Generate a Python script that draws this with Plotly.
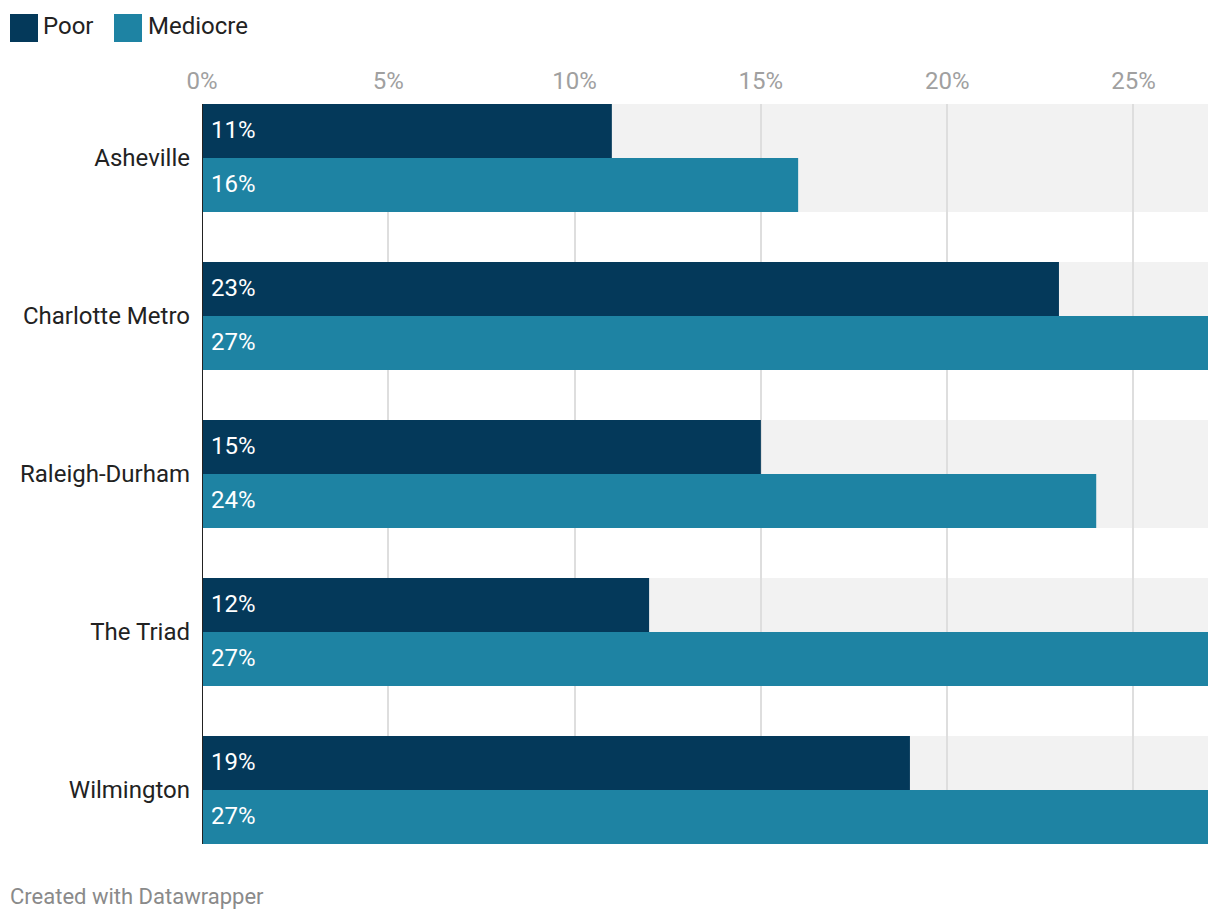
import plotly.graph_objects as go

categories = ["Asheville", "Charlotte Metro", "Raleigh-Durham", "The Triad", "Wilmington"]
poor = [11, 23, 15, 12, 19]
mediocre = [16, 27, 24, 27, 27]
series_names = ["Poor", "Mediocre"]
tick_vals = [0, 5, 10, 15, 20, 25]
tick_text = ["0%", "5%", "10%", "15%", "20%", "25%"]
x_max = 27

C_POOR = "#04395a"
C_MED = "#1e83a3"
FONT = "Roboto"

W, H = 1220, 922
L, R, T, B = 202, 12, 104, 78
PW, PH = W - L - R, H - T - B


def px_x(p):
    return (p - L) / PW


def px_y(p):
    return (H - B - p) / PH


half = 0.3418  # half group width in category units
bw = half  # each bar width

fig = go.Figure()
fig.add_trace(go.Bar(y=categories, x=poor, name=series_names[0], orientation="h",
                     marker=dict(color=C_POOR, line=dict(width=0)), showlegend=False,
                     hoverinfo="skip"))
fig.add_trace(go.Bar(y=categories, x=mediocre, name=series_names[1], orientation="h",
                     marker=dict(color=C_MED, line=dict(width=0)), showlegend=False,
                     hoverinfo="skip"))

shapes = []
annotations = []
for i, cat in enumerate(categories):
    shapes.append(dict(type="rect", xref="x", yref="y", x0=0, x1=x_max,
                       y0=i - half, y1=i + half, fillcolor="#f2f2f2",
                       line=dict(width=0), layer="below"))
    for j, vals in enumerate([poor, mediocre]):
        yc = i - bw / 2 if j == 0 else i + bw / 2
        annotations.append(dict(x=0, y=yc, xref="x", yref="y", text=f"{vals[i]}%",
                                showarrow=False, xanchor="left", yanchor="middle",
                                xshift=7, yshift=1,
                                font=dict(family=FONT, size=24, color="white")))

# zero line
shapes.append(dict(type="line", xref="x", yref="paper", x0=0, x1=0, y0=0, y1=1,
                   line=dict(color="#222222", width=2), layer="above"))

# legend
leg = [(10, 38, 41, series_names[0], C_POOR), (114, 142, 146, series_names[1], C_MED)]
for x0, x1, tx, name, col in leg:
    shapes.append(dict(type="rect", xref="paper", yref="paper",
                       x0=px_x(x0), x1=px_x(x1), y0=px_y(42), y1=px_y(14),
                       fillcolor=col, line=dict(width=0)))
    annotations.append(dict(x=px_x(tx), y=px_y(26), xref="paper", yref="paper",
                            text=name, showarrow=False, xanchor="left", yanchor="middle",
                            font=dict(family=FONT, size=24, color="#222222")))

annotations.append(dict(x=px_x(8), y=px_y(896), xref="paper", yref="paper",
                        text="Created with Datawrapper", showarrow=False,
                        xanchor="left", yanchor="middle",
                        font=dict(family=FONT, size=22, color="#8a8a8a")))

fig.update_layout(
    width=W, height=H,
    margin=dict(l=L, r=R, t=T, b=B, pad=0),
    paper_bgcolor="white", plot_bgcolor="white",
    barmode="group", bargap=1 - 2 * half, bargroupgap=0,
    shapes=shapes, annotations=annotations,
    font=dict(family=FONT),
    xaxis=dict(side="top", range=[0, x_max], tickvals=tick_vals, ticktext=tick_text,
               tickfont=dict(family=FONT, size=24, color="#a0a0a0"),
               showgrid=True, gridcolor="#dedede", gridwidth=1.5,
               zeroline=False, showline=False, ticks="", ticklabelstandoff=9,
               fixedrange=True),
    yaxis=dict(type="category", range=[len(categories) - 1 + half, -half],
               tickfont=dict(family=FONT, size=24, color="#222222"),
               showgrid=False, zeroline=False, showline=False, ticks="",
               ticklabelstandoff=11, fixedrange=True),
)

fig.write_html("out.html", config={"displayModeBar": False})
